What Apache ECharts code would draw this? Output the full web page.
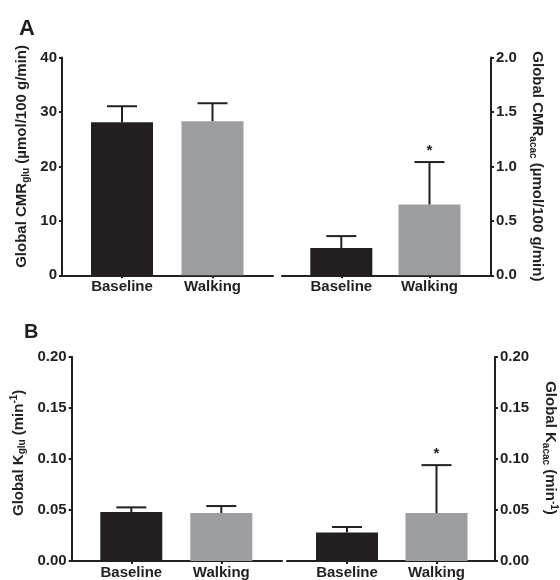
<!DOCTYPE html>
<html>
<head>
<meta charset="utf-8">
<script src="https://cdn.jsdelivr.net/npm/echarts@6/dist/echarts.min.js"></script>
<style>
html,body{margin:0;padding:0;background:#fff;}
#chart{width:560px;height:580px;}
</style>
</head>
<body>
<div id="chart"></div>
<script>
// ---- data ----
const categories = ['Baseline', 'Walking'];
const cmrGluMean = [28.1, 28.3];
const cmrGluSem = [2.95, 3.3];
const cmrAcacMean = [0.25, 0.65];
const cmrAcacSem = [0.11, 0.39];
const kGluMean = [0.048, 0.047];
const kGluSem = [0.0045, 0.0068];
const kAcacMean = [0.028, 0.047];
const kAcacSem = [0.0053, 0.047];
const gluSignificant = [false, false];
const acacSignificant = [false, true];
const cmrGluTicks = [0, 10, 20, 30, 40];
const cmrAcacTicks = [0.0, 0.5, 1.0, 1.5, 2.0];
const kTicks = [0.00, 0.05, 0.10, 0.15, 0.20];

// ---- style ----
const INK = '#231f20';
const BAR_COLORS = ['#231f20', '#9d9ea2'];
const FONT = '"Liberation Sans", Arial, sans-serif';

const chart = echarts.init(document.getElementById('chart'), null, {renderer: 'canvas'});

const panels = [
  {frame: {left: 62, top: 57.5, width: 211, height: 217.8}, bars: {left: 76.75, width: 181},
   mean: cmrGluMean, sem: cmrGluSem, sig: gluSignificant, ticks: cmrGluTicks, dec: 0, side: 'left',
   name: '{m|Global CMR}{s|glu}{m| (µmol/100 g/min)}', gap: 31, pad: [0, 0, 0, 20]},
  {frame: {left: 282, top: 57.5, width: 209, height: 217.8}, bars: {left: 297.2, width: 176.4},
   mean: cmrAcacMean, sem: cmrAcacSem, sig: acacSignificant, ticks: cmrAcacTicks, dec: 1, side: 'right',
   name: '{m|Global CMR}{s|acac}{m| (µmol/100 g/min)}', gap: 37, pad: [0, 0, 0, 0]},
  {frame: {left: 71.7, top: 356.7, width: 210.3, height: 204.3}, bars: {left: 86.3, width: 180},
   mean: kGluMean, sem: kGluSem, sig: gluSignificant, ticks: kTicks, dec: 2, side: 'left',
   name: '{m|Global K}{s|glu}{m| (min}{p|-1}{m|)}', gap: 44, pad: [0, 0, 0, 12]},
  {frame: {left: 287, top: 357, width: 209, height: 204}, bars: {left: 302.25, width: 179},
   mean: kAcacMean, sem: kAcacSem, sig: acacSignificant, ticks: kTicks, dec: 2, side: 'right',
   name: '{m|Global K}{s|acac}{m| (min}{p|-1}{m|)}', gap: 46, pad: [0, 22, 0, 0]}
];

const grid = [], xAxis = [], yAxis = [], series = [];

panels.forEach((p, i) => {
  const fi = i * 2, bi = i * 2 + 1;
  const tmin = p.ticks[0], tmax = p.ticks[p.ticks.length - 1], tint = p.ticks[1] - p.ticks[0];
  grid.push({left: p.frame.left, top: p.frame.top, width: p.frame.width, height: p.frame.height});
  grid.push({left: p.bars.left, top: p.frame.top, width: p.bars.width, height: p.frame.height});
  // frame axes
  xAxis.push({gridIndex: fi, type: 'value', min: 0, max: 1,
    axisLine: {show: true, onZero: false, lineStyle: {color: INK, width: 2}},
    axisTick: {show: false}, axisLabel: {show: false}, splitLine: {show: false}});
  yAxis.push({gridIndex: fi, type: 'value', position: p.side, min: tmin, max: tmax, interval: tint,
    axisLine: {show: true, onZero: false, lineStyle: {color: INK, width: 2}},
    axisTick: {show: true, length: 3, lineStyle: {color: INK, width: 2}},
    axisLabel: {color: INK, fontFamily: FONT, fontWeight: 'bold', fontSize: 15, margin: 5,
      formatter: v => v.toFixed(p.dec)},
    splitLine: {show: false},
    name: p.name, nameLocation: 'middle', nameGap: p.gap,
    nameRotate: p.side === 'left' ? 90 : -90,
    nameTextStyle: {padding: p.pad, rich: {
      m: {fontFamily: FONT, fontWeight: 'bold', fontSize: 15, color: INK, lineHeight: 18},
      s: {fontFamily: FONT, fontWeight: 'bold', fontSize: 10, color: INK, lineHeight: 10, verticalAlign: 'bottom'},
      p: {fontFamily: FONT, fontWeight: 'bold', fontSize: 10, color: INK, lineHeight: 10, verticalAlign: 'top'}
    }}
  });
  // bar axes
  xAxis.push({gridIndex: bi, type: 'category', data: categories,
    axisLine: {show: false},
    axisTick: {show: true, alignWithLabel: true, length: 3, lineStyle: {color: INK, width: 2}},
    axisLabel: {color: INK, fontFamily: FONT, fontWeight: 'bold', fontSize: 15, margin: 4}});
  yAxis.push({gridIndex: bi, type: 'value', min: tmin, max: tmax, interval: tint, show: false});

  series.push({type: 'bar', xAxisIndex: bi, yAxisIndex: bi, barWidth: 62,
    data: p.mean.map((v, k) => ({value: v, itemStyle: {color: BAR_COLORS[k]}})),
    z: 2, silent: true});
  series.push({type: 'custom', xAxisIndex: bi, yAxisIndex: bi, z: 3, silent: true,
    data: p.mean.map((v, k) => [k, v, p.sem[k], p.sig[k] ? 1 : 0]),
    encode: {x: 0, y: 1},
    renderItem: (params, api) => {
      const c = api.value(0), m = api.value(1), e = api.value(2), s = api.value(3);
      const base = api.coord([c, m]);
      const top = api.coord([c, m + e]);
      const hw = 15;
      const st = {stroke: INK, lineWidth: 2};
      const children = [
        {type: 'line', shape: {x1: base[0], y1: base[1], x2: top[0], y2: top[1]}, style: st},
        {type: 'line', shape: {x1: top[0] - hw, y1: top[1], x2: top[0] + hw, y2: top[1]}, style: st}
      ];
      if (s) {
        children.push({type: 'text', x: top[0], y: top[1] - 4,
          style: {text: '*', fill: INK, font: 'bold 15px ' + FONT, align: 'center', verticalAlign: 'bottom'}});
      }
      return {type: 'group', children: children};
    }
  });
});

chart.setOption({
  animation: false,
  backgroundColor: '#fff',
  title: [
    {text: 'A', left: 14, top: 13, textStyle: {fontFamily: FONT, fontWeight: 'bold', fontSize: 22, color: INK}},
    {text: 'B', left: 19, top: 317, textStyle: {fontFamily: FONT, fontWeight: 'bold', fontSize: 20, color: INK}}
  ],
  grid: grid, xAxis: xAxis, yAxis: yAxis, series: series
});
</script>
</body>
</html>
